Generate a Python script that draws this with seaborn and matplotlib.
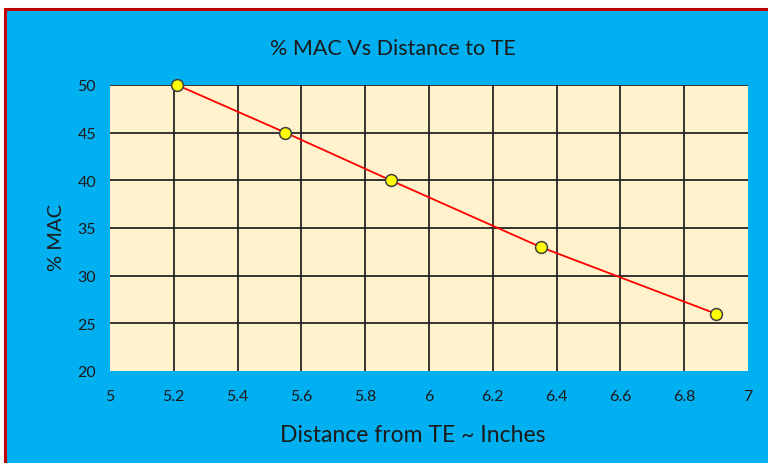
import pandas as pd
import seaborn as sns
import matplotlib.pyplot as plt
from matplotlib.patches import Rectangle

# data
distance = [5.21, 5.55, 5.88, 6.35, 6.9]
pct_mac = [50, 45, 40, 33, 26]
x_ticks = [5, 5.2, 5.4, 5.6, 5.8, 6, 6.2, 6.4, 6.6, 6.8, 7]
x_labels = ['5', '5.2', '5.4', '5.6', '5.8', '6', '6.2', '6.4', '6.6', '6.8', '7']
y_ticks = [20, 25, 30, 35, 40, 45, 50]

df = pd.DataFrame({'Distance': distance, 'MAC': pct_mac})

plt.rcParams['font.family'] = ['Lato', 'DejaVu Sans']

fig = plt.figure(figsize=(7.68, 4.64), dpi=100)
fig.patch.set_facecolor('white')

# blue chart area with red border on top/left
bg = Rectangle((5 / 768, -0.05), 1.1, 1 - 10 / 464 + 0.05, transform=fig.transFigure,
               facecolor='#00B0F0', edgecolor='#C00000', linewidth=2.2, zorder=-10)
fig.add_artist(bg)

ax = fig.add_axes([110 / 768, 1 - 372 / 464, 638 / 768, 286 / 464])
ax.set_facecolor('#FFF2CC')

sns.lineplot(data=df, x='Distance', y='MAC', ax=ax, color='#FF0000', linewidth=1.3,
             marker='o', markersize=8.5, markerfacecolor='#FFFF00',
             markeredgecolor='#404040', markeredgewidth=1.1, zorder=3, clip_on=False)

ax.set_xlim(5, 7)
ax.set_ylim(20, 50)
ax.set_xticks(x_ticks)
ax.set_xticklabels(x_labels)
ax.set_yticks(y_ticks)
ax.tick_params(length=0, labelsize=11.5, colors='#1a1a1a', pad=13)
ax.tick_params(axis='y', pad=10)

ax.grid(True, color='#262626', linewidth=1.3)
ax.set_axisbelow(True)
# hide gridlines that sit on the left, right and bottom edges
xg = ax.xaxis.get_gridlines()
xg[0].set_visible(False)
xg[-1].set_visible(False)
ax.yaxis.get_gridlines()[0].set_visible(False)
for s in ax.spines.values():
    s.set_visible(False)

ax.set_title('% MAC Vs Distance to TE', fontsize=15.5, color='#1a1a1a', pad=22, x=0.444)
ax.set_xlabel('Distance from TE ~ Inches', fontsize=16.5, color='#1a1a1a', labelpad=15, x=0.475)
ax.set_ylabel('% MAC', fontsize=14.5, color='#1a1a1a', labelpad=9, y=0.472)

plt.savefig('out.png', dpi=100, facecolor=fig.get_facecolor())
